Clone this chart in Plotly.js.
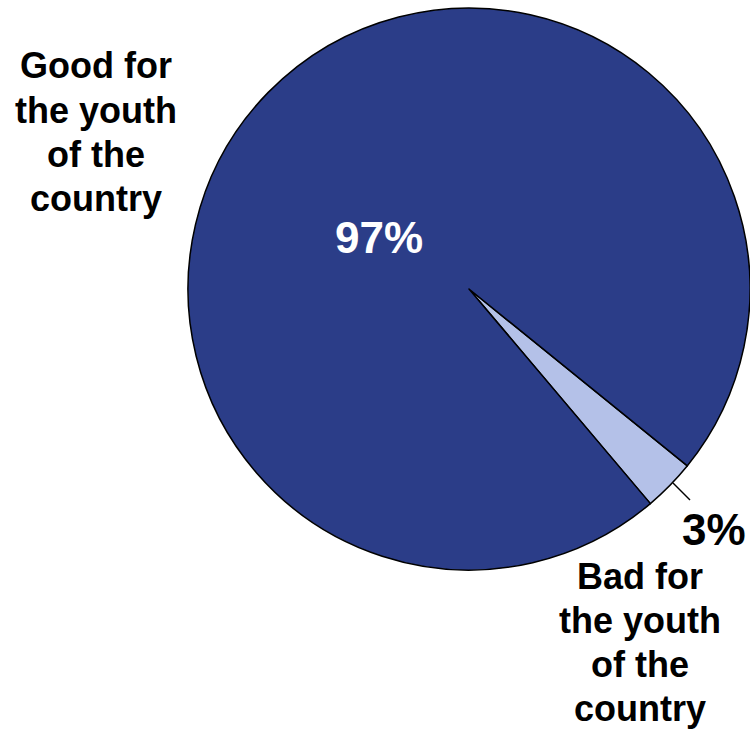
<!DOCTYPE html>
<html>
<head>
<meta charset="utf-8">
<script src="https://cdn.plot.ly/plotly-3.0.1.min.js"></script>
<style>html,body{margin:0;padding:0;background:#fff;}#chart{width:750px;height:730px;}</style>
</head>
<body>
<div id="chart"></div>
<script>
const labels = ["Bad for the youth of the country", "Good for the youth of the country"];
const values = [3, 97];
const colors = ["#B4C1E8", "#2B3D88"];
const pctText = ["3%", "97%"];
const goodLines = ["Good for", "the youth", "of the", "country"];
const badLines = ["Bad for", "the youth", "of the", "country"];

const W = 750, H = 730;
const px = x => x / W;
const py = y => 1 - y / H;
const cx = 469, cy = 289, r = 281;

const trace = {
  type: "pie",
  labels: labels,
  values: values,
  sort: false,
  direction: "clockwise",
  rotation: 129,
  textinfo: "none",
  hoverinfo: "label+percent",
  marker: { colors: colors, line: { color: "#000", width: 1.5 } },
  domain: { x: [px(cx - r), px(cx + r)], y: [py(cy + r), py(cy - r)] },
  showlegend: false
};

const font = { family: "Liberation Sans, Arial, sans-serif", color: "#000" };
const lineGap = 44.3;
const annotations = [];
goodLines.forEach((t, i) => annotations.push({ x: px(96), y: py(66 + i * lineGap), text: "<b>" + t + "</b>", font: Object.assign({}, font, { size: 36 }) }));
badLines.forEach((t, i) => annotations.push({ x: px(640), y: py(576 + i * lineGap), text: "<b>" + t + "</b>", font: Object.assign({}, font, { size: 36 }) }));
annotations.push({ x: px(379), y: py(237), text: "<b>" + pctText[1] + "</b>", font: Object.assign({}, font, { size: 44, color: "#fff" }) });
annotations.push({ x: px(714), y: py(529), text: "<b>" + pctText[0] + "</b>", font: Object.assign({}, font, { size: 44 }) });
annotations.forEach(a => Object.assign(a, { xref: "paper", yref: "paper", showarrow: false, xanchor: "center", yanchor: "middle" }));

const layout = {
  width: W, height: H,
  margin: { l: 0, r: 0, t: 0, b: 0 },
  paper_bgcolor: "#fff",
  annotations: annotations,
  shapes: [{ type: "line", xref: "paper", yref: "paper", x0: px(673), y0: py(483), x1: px(690), y1: py(500), line: { color: "#000", width: 1.5 } }]
};

Plotly.newPlot("chart", [trace], layout, { displayModeBar: false, staticPlot: true });
</script>
</body>
</html>
